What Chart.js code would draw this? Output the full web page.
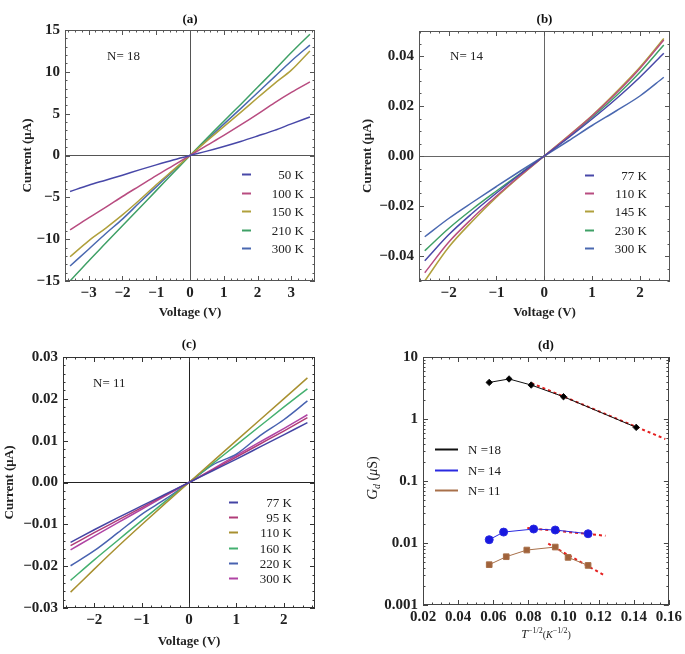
<!DOCTYPE html>
<html lang="en">
<head>
<meta charset="UTF-8">
<title>I-V curves and conductance</title>
<script src="https://cdn.jsdelivr.net/npm/chart.js"></script>
<style>
  body { margin: 0; background: #fff; }
  #wrap { position: relative; width: 685px; height: 654px; }
  canvas { position: absolute; }
</style>
</head>
<body>
<div id="wrap">
  <canvas id="chartA" width="340" height="330" style="left:0;top:0"></canvas>
  <canvas id="chartB" width="345" height="330" style="left:340px;top:0"></canvas>
  <canvas id="chartC" width="340" height="324" style="left:0;top:330px"></canvas>
  <canvas id="chartD" width="345" height="324" style="left:340px;top:330px"></canvas>
</div>
<script>
// ---- data ----

// (a) N = 18, current in uA
const voltA = [-3.55, -3, -2.5, -2, -1.5, -1, -0.5, 0, 0.5, 1, 1.5, 2, 2.5, 3, 3.55];
const curA50  = [-4.3, -3.55, -2.95, -2.35, -1.72, -1.12, -0.54, 0, 0.52, 1.08, 1.68, 2.33, 3.0, 3.78, 4.6];
const curA100 = [-8.9, -7.45, -6.2, -4.9, -3.65, -2.4, -1.2, 0, 1.2, 2.4, 3.65, 4.95, 6.3, 7.55, 8.8];
const curA150 = [-12.1, -10.2, -8.7, -7.1, -5.35, -3.5, -1.75, 0, 1.75, 3.45, 5.15, 6.9, 8.6, 10.2, 12.5];
const curA210 = [-15.0, -12.6, -10.5, -8.4, -6.3, -4.2, -2.1, 0, 2.05, 4.1, 6.1, 8.15, 10.2, 12.3, 14.5];
const curA300 = [-13.2, -11.2, -9.35, -7.6, -5.65, -3.75, -1.85, 0, 1.85, 3.75, 5.6, 7.5, 9.4, 11.3, 13.2];
const tempsA = ['50 K', '100 K', '150 K', '210 K', '300 K'];
const ticksAx = [-3, -2, -1, 0, 1, 2, 3];
const ticksAy = [-15, -10, -5, 0, 5, 10, 15];

// (b) N = 14
const voltB = [-2.5, -2, -1.5, -1, -0.5, 0, 0.5, 1, 1.5, 2, 2.5];
const curB77  = [-0.0419, -0.0315, -0.0228, -0.0148, -0.0072, 0, 0.0072, 0.0148, 0.0228, 0.0315, 0.0411];
const curB110 = [-0.0467, -0.0345, -0.0248, -0.0160, -0.0078, 0, 0.0078, 0.0160, 0.0250, 0.0350, 0.0464];
const curB145 = [-0.0500, -0.0365, -0.0260, -0.0165, -0.0080, 0, 0.0080, 0.0162, 0.0255, 0.0355, 0.0470];
const curB230 = [-0.0379, -0.0290, -0.0212, -0.0140, -0.0070, 0, 0.0075, 0.0155, 0.0240, 0.0335, 0.0444];
const curB300 = [-0.0323, -0.0250, -0.0185, -0.0122, -0.0060, 0, 0.0060, 0.0122, 0.0180, 0.0240, 0.0315];
const tempsB = ['77 K', '110 K', '145 K', '230 K', '300 K'];
const ticksBx = [-2, -1, 0, 1, 2];
const ticksBy = [-0.04, -0.02, 0, 0.02, 0.04];

// (c) N = 11
const voltC = [-2.5, -2, -1.5, -1, -0.5, 0, 0.5, 1, 1.5, 2, 2.5];
const curC77  = [-0.0143, -0.0113, -0.0084, -0.0056, -0.0028, 0, 0.0028, 0.0056, 0.0085, 0.0114, 0.0143];
const curC95  = [-0.0151, -0.0120, -0.0090, -0.0060, -0.0030, 0, 0.0030, 0.0061, 0.0092, 0.0123, 0.0155];
const curC110 = [-0.0262, -0.0207, -0.0153, -0.0101, -0.0050, 0, 0.0050, 0.0100, 0.0150, 0.0200, 0.0250];
const curC160 = [-0.0234, -0.0185, -0.0138, -0.0091, -0.0045, 0, 0.0045, 0.0090, 0.0135, 0.0180, 0.0224];
const curC220 = [-0.0199, -0.0163, -0.0120, -0.0076, -0.0040, 0, 0.0042, 0.0068, 0.0112, 0.0150, 0.0195];
const curC300 = [-0.0161, -0.0128, -0.0096, -0.0064, -0.0032, 0, 0.0032, 0.0065, 0.0097, 0.0129, 0.0162];
const tempsC = ['77 K', '95 K', '110 K', '160 K', '220 K', '300 K'];
const ticksCx = [-2, -1, 0, 1, 2];
const ticksCy = [-0.03, -0.02, -0.01, 0, 0.01, 0.02, 0.03];

// (d) zero-bias conductance vs T^-1/2
const invT18 = [0.0577, 0.0690, 0.0816, 0.1000, 0.1414];
const gd18   = [3.89, 4.42, 3.53, 2.29, 0.733];
const invT14 = [0.0577, 0.0659, 0.0830, 0.0953, 0.1140];
const gd14   = [0.0113, 0.0150, 0.0168, 0.0162, 0.0141];
const invT11 = [0.0577, 0.0674, 0.0791, 0.0953, 0.1026, 0.1140];
const gd11   = [0.00447, 0.00601, 0.0077, 0.0086, 0.00586, 0.00435];
const fitX18 = [0.0817, 0.158];   const fitG18 = [3.8, 0.475];
const fitX14 = [0.0794, 0.1239];  const fitG14 = [0.01746, 0.0131];
const fitX11 = [0.0913, 0.1226];  const fitG11 = [0.00975, 0.00308];
const seriesD = ['N =18', 'N= 14', 'N= 11'];
const ticksDx = [0.02, 0.04, 0.06, 0.08, 0.10, 0.12, 0.14, 0.16];
const ticksDy = [0.001, 0.01, 0.1, 1, 10];
const labelsDy = ['0.001', '0.01', '0.1', '1', '10'];

// ---- helpers ----
const FONT = "'Liberation Serif', 'Times New Roman', serif";
const pts = (xs, ys) => xs.map((x, i) => ({ x: x, y: ys[i] }));
const minus = s => s.replace('-', '\u2212');

function fmt(dec) {
  return v => minus(Number(v).toFixed(dec));
}

// frame on all four sides with inward ticks
function frame(o) {
  return {
    id: 'frame',
    afterDatasetsDraw(chart) {
      const { ctx, chartArea: a } = chart;
      const x = chart.scales.x, y = chart.scales.y;
      ctx.save();
      ctx.strokeStyle = o.color;
      ctx.lineWidth = 1;
      ctx.beginPath();
      for (let k = Math.ceil(x.min / o.xMinor - 1e-6); k * o.xMinor <= x.max + 1e-9; k++) {
        const v = k * o.xMinor;
        const r = v / o.xMajor;
        const len = Math.abs(r - Math.round(r)) < 1e-6 ? 5 : 2.5;
        const px = Math.round(x.getPixelForValue(v)) + 0.5;
        ctx.moveTo(px, a.bottom); ctx.lineTo(px, a.bottom - len);
        ctx.moveTo(px, a.top); ctx.lineTo(px, a.top + len);
      }
      const yTick = (v, len) => {
        const py = Math.round(y.getPixelForValue(v)) + 0.5;
        ctx.moveTo(a.left, py); ctx.lineTo(a.left + len, py);
        ctx.moveTo(a.right, py); ctx.lineTo(a.right - len, py);
      };
      if (o.log) {
        for (let d = Math.round(Math.log10(y.min)); d < Math.round(Math.log10(y.max)); d++) {
          for (let m = 1; m <= 9; m++) yTick(m * Math.pow(10, d), m === 1 ? 5 : 2.5);
        }
        yTick(y.max, 5);
      } else {
        for (let k = Math.ceil(y.min / o.yMinor - 1e-6); k * o.yMinor <= y.max + 1e-9; k++) {
          const v = k * o.yMinor;
          const r = v / o.yMajor;
          yTick(v, Math.abs(r - Math.round(r)) < 1e-6 ? 5 : 2.5);
        }
      }
      ctx.stroke();
      ctx.strokeRect(Math.round(a.left) + 0.5, Math.round(a.top) + 0.5,
        Math.round(a.right - a.left) - 1, Math.round(a.bottom - a.top) - 1);
      ctx.restore();
    }
  };
}

// legend drawn inside the plot
function insideLegend(o) {
  return {
    id: 'insideLegend',
    afterDraw(chart) {
      const ctx = chart.ctx;
      ctx.save();
      ctx.font = '13px ' + FONT;
      ctx.textBaseline = 'middle';
      ctx.textAlign = o.align;
      let row = 0;
      chart.data.datasets.forEach(ds => {
        if (ds.noLegend) return;
        const yy = Math.round(o.y + row * o.dy) + 0.5;
        ctx.strokeStyle = ds.borderColor;
        ctx.lineWidth = 2;
        ctx.beginPath(); ctx.moveTo(o.x1, yy); ctx.lineTo(o.x2, yy); ctx.stroke();
        ctx.fillStyle = '#222';
        ctx.fillText(ds.label, o.tx, yy + 1);
        row++;
      });
      ctx.restore();
    }
  };
}

// free text with mixed fonts (sub/superscripts)
function texts(items) {
  return {
    id: 'texts',
    afterDraw(chart) {
      const ctx = chart.ctx;
      items.forEach(it => {
        ctx.save();
        ctx.translate(it.x, it.y);
        if (it.rot) ctx.rotate(it.rot);
        ctx.fillStyle = '#222';
        ctx.textBaseline = 'alphabetic';
        ctx.textAlign = 'left';
        let w = 0;
        it.runs.forEach(r => { ctx.font = r.f; w += ctx.measureText(r.t).width; });
        let cx = it.center ? -w / 2 : 0;
        it.runs.forEach(r => {
          ctx.font = r.f;
          ctx.fillText(r.t, cx, r.dy || 0);
          cx += ctx.measureText(r.t).width;
        });
        ctx.restore();
      });
    }
  };
}

function panelOptions(p) {
  const tickFont = { family: FONT, size: 15, weight: 'bold' };
  const titleFont = { family: FONT, size: 13, weight: 'bold' };
  const zero = c => (p.zero && c.tick && c.tick.value === 0) ? p.zero : 'rgba(0,0,0,0)';
  return {
    responsive: false,
    animation: false,
    events: [],
    layout: { padding: { left: 0, right: p.W - p.area.right, top: 0, bottom: 0 } },
    plugins: {
      legend: { display: false },
      tooltip: { enabled: false },
      title: {
        display: true, text: p.title, fullSize: false, color: '#111', font: titleFont,
        padding: { top: p.titleY - 7.8, bottom: p.area.top - p.titleY - 7.8 }
      }
    },
    scales: {
      x: {
        type: 'linear', min: p.xMin, max: p.xMax,
        afterFit: s => { s.height = p.H - p.area.bottom; },
        afterBuildTicks: s => { s.ticks = p.xTicks.map(v => ({ value: v })); },
        ticks: { callback: p.xFmt, font: tickFont, color: '#222', padding: 3, maxRotation: 0, minRotation: 0, autoSkip: false },
        grid: { drawTicks: false, color: zero, lineWidth: 1 },
        border: { display: false },
        title: p.xTitle ? { display: true, text: p.xTitle, color: '#222', font: titleFont,
          padding: { top: 0, bottom: p.H - p.xTitleY - 7.8 } } : { display: false }
      },
      y: {
        type: p.log ? 'logarithmic' : 'linear', min: p.yMin, max: p.yMax,
        afterFit: s => { s.width = p.area.left; },
        afterBuildTicks: s => { s.ticks = p.yTicks.map(v => ({ value: v })); },
        ticks: { callback: p.yFmt, font: tickFont, color: '#222', padding: 5, autoSkip: false },
        grid: { drawTicks: false, color: zero, lineWidth: 1 },
        border: { display: false },
        title: p.yTitle ? { display: true, text: p.yTitle, color: '#222', font: titleFont,
          padding: { top: p.yTitleX - 7.8, bottom: 0 } } : { display: false }
      }
    }
  };
}

function ivSets(xs, curves, names, colors) {
  return curves.map((c, i) => ({
    label: names[i], data: pts(xs, c), borderColor: colors[i],
    borderWidth: 1.5, pointRadius: 0, showLine: true, cubicInterpolationMode: 'monotone'
  }));
}

const colA = ['#4848a8', '#b84c80', '#b0a03c', '#3fa066', '#4a68b0'];
const colB = ['#4848a8', '#b84c80', '#b0a03c', '#3fa066', '#4a68b0'];
const colC = ['#4444a4', '#b03c78', '#a89030', '#44b070', '#4862b0', '#b044a4'];

// (a)
new Chart(document.getElementById('chartA'), {
  type: 'scatter',
  data: { datasets: ivSets(voltA, [curA50, curA100, curA150, curA210, curA300], tempsA, colA) },
  options: panelOptions({
    W: 340, H: 330, area: { left: 65, top: 30, right: 315, bottom: 281 },
    title: '(a)', titleY: 20, xTitle: 'Voltage (V)', xTitleY: 313, yTitle: 'Current (\u03bcA)', yTitleX: 28,
    xMin: -3.7, xMax: 3.7, yMin: -15, yMax: 15, xTicks: ticksAx, yTicks: ticksAy,
    xFmt: fmt(0), yFmt: fmt(0), zero: '#555'
  }),
  plugins: [
    frame({ color: '#555', xMinor: 0.2, xMajor: 1, yMinor: 1, yMajor: 5 }),
    insideLegend({ x1: 242, x2: 251, tx: 304, y: 174, dy: 18.5, align: 'right' }),
    texts([{ x: 107, y: 60, runs: [{ t: 'N= 18', f: '13px ' + FONT }] }])
  ]
});

// (b)
new Chart(document.getElementById('chartB'), {
  type: 'scatter',
  data: { datasets: ivSets(voltB, [curB77, curB110, curB145, curB230, curB300], tempsB, colB) },
  options: panelOptions({
    W: 345, H: 330, area: { left: 79, top: 31, right: 330, bottom: 281 },
    title: '(b)', titleY: 19.5, xTitle: 'Voltage (V)', xTitleY: 313, yTitle: 'Current (\u03bcA)', yTitleX: 28,
    xMin: -2.62, xMax: 2.63, yMin: -0.05, yMax: 0.05, xTicks: ticksBx, yTicks: ticksBy,
    xFmt: fmt(0), yFmt: fmt(2), zero: '#666'
  }),
  plugins: [
    frame({ color: '#555', xMinor: 0.2, xMajor: 1, yMinor: 0.005, yMajor: 0.02 }),
    insideLegend({ x1: 245, x2: 254, tx: 307, y: 175, dy: 18.2, align: 'right' }),
    texts([{ x: 110, y: 60, runs: [{ t: 'N= 14', f: '13px ' + FONT }] }])
  ]
});

// (c)
new Chart(document.getElementById('chartC'), {
  type: 'scatter',
  data: { datasets: ivSets(voltC, [curC77, curC95, curC110, curC160, curC220, curC300], tempsC, colC) },
  options: panelOptions({
    W: 340, H: 324, area: { left: 63, top: 27, right: 315, bottom: 278 },
    title: '(c)', titleY: 15, xTitle: 'Voltage (V)', xTitleY: 311.7, yTitle: 'Current (\u03bcA)', yTitleX: 10,
    xMin: -2.66, xMax: 2.66, yMin: -0.03, yMax: 0.03, xTicks: ticksCx, yTicks: ticksCy,
    xFmt: fmt(0), yFmt: fmt(2), zero: '#222'
  }),
  plugins: [
    frame({ color: '#333', xMinor: 0.2, xMajor: 1, yMinor: 0.002, yMajor: 0.01 }),
    insideLegend({ x1: 229, x2: 238, tx: 292, y: 171.7, dy: 15.3, align: 'right' }),
    texts([{ x: 93, y: 57, runs: [{ t: 'N= 11', f: '13px ' + FONT }] }])
  ]
});

// (d)
const redFit = xy => ({
  data: xy, borderColor: '#e52020', borderWidth: 2, borderDash: [3, 3],
  pointRadius: 0, showLine: true, noLegend: true
});
new Chart(document.getElementById('chartD'), {
  type: 'scatter',
  data: {
    datasets: [
      { label: seriesD[0], data: pts(invT18, gd18), borderColor: '#111', backgroundColor: '#000',
        borderWidth: 1, showLine: true, pointStyle: 'rectRot', pointRadius: 3.2 },
      { label: seriesD[1], data: pts(invT14, gd14), borderColor: '#2a2ae0', backgroundColor: '#1818e0',
        borderWidth: 1, showLine: true, pointStyle: 'circle', pointRadius: 4 },
      { label: seriesD[2], data: pts(invT11, gd11), borderColor: '#a8704a', backgroundColor: '#a0623a',
        borderWidth: 1, showLine: true, pointStyle: 'rect', pointRadius: 4 },
      redFit(pts(fitX18, fitG18)),
      redFit(pts(fitX14, fitG14)),
      redFit(pts(fitX11, fitG11))
    ]
  },
  options: panelOptions({
    W: 345, H: 324, area: { left: 83, top: 27, right: 329, bottom: 275 },
    title: '(d)', titleY: 16, log: true,
    xMin: 0.02, xMax: 0.16, yMin: 0.001, yMax: 10, xTicks: ticksDx, yTicks: ticksDy,
    xFmt: fmt(2), yFmt: (v, i) => labelsDy[i], zero: null
  }),
  plugins: [
    frame({ color: '#444', xMinor: 0.005, xMajor: 0.02, log: true }),
    insideLegend({ x1: 95, x2: 118, tx: 128, y: 119, dy: 20.5, align: 'left' }),
    texts([
      { x: 37, y: 148, rot: -Math.PI / 2, center: true, runs: [
        { t: 'G', f: 'italic 15px ' + FONT },
        { t: 'd', f: 'italic 10px ' + FONT, dy: 3 },
        { t: ' (', f: '14px ' + FONT },
        { t: '\u03bc', f: 'italic 14px ' + FONT },
        { t: 'S)', f: '14px ' + FONT }
      ] },
      { x: 206, y: 308, center: true, runs: [
        { t: 'T', f: 'italic 12px ' + FONT },
        { t: '\u22121/2', f: '8px ' + FONT, dy: -5 },
        { t: '(', f: '10px ' + FONT },
        { t: 'K', f: 'italic 10px ' + FONT },
        { t: '\u22121/2', f: '8px ' + FONT, dy: -5 },
        { t: ')', f: '10px ' + FONT }
      ] }
    ])
  ]
});
</script>
</body>
</html>
